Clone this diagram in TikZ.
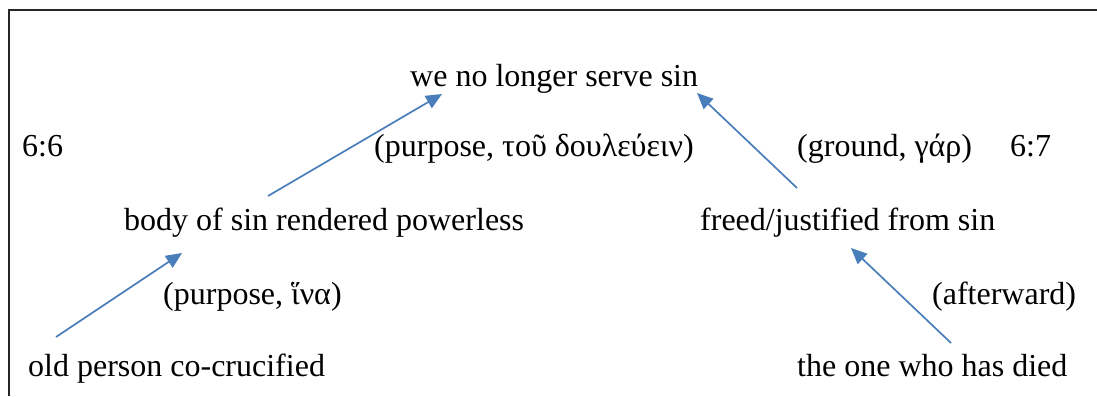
\documentclass[tikz,border=0pt]{standalone}
\usepackage{fontspec}
\setmainfont{Liberation Serif}
\usetikzlibrary{arrows.meta}
\definecolor{arrblue}{HTML}{4A7EBB}
\begin{document}
\begin{tikzpicture}[x=1pt,y=-1pt,
  lbl/.style={anchor=base west,inner sep=0pt,font=\fontsize{32}{38}\selectfont},
  conn/.style={draw=arrblue,line width=1.7pt,-{Triangle[length=16pt,width=14pt]}},
  frame/.style={draw=black!85,line width=2.2pt}]
\useasboundingbox (0,0) rectangle (1097,396);
\draw[frame] (9,396) -- (9,10) -- (1097,10);
\node[lbl] (serve) at (410,86) {we no longer serve sin};
\node[lbl] (v6) at (22,156) {6:6};
\node[lbl] (purp1) at (374,156) {(purpose, τοῦ δουλεύειν)};
\node[lbl] (ground) at (797,156) {(ground, γάρ)};
\node[lbl] (v7) at (1010,156) {6:7};
\node[lbl] (body) at (124,230) {body of sin rendered powerless};
\node[lbl] (freed) at (700,230) {freed/justified from sin};
\node[lbl] (purp2) at (163,304) {(purpose, ἵνα)};
\node[lbl] (after) at (932,304) {(afterward)};
\node[lbl] (old) at (28,376) {old person co-crucified};
\node[lbl] (died) at (797,376) {the one who has died};
\coordinate (oldtop) at (56,337);
\coordinate (bodybot) at (182,253);
\coordinate (bodytop) at (268,196);
\coordinate (servebotL) at (442,94);
\coordinate (freedtop) at (797,188);
\coordinate (servebotR) at (697,93);
\coordinate (diedtop) at (951,343);
\coordinate (freedbot) at (851,248);
\draw[conn] (oldtop) -- (bodybot);
\draw[conn] (bodytop) -- (servebotL);
\draw[conn] (freedtop) -- (servebotR);
\draw[conn] (diedtop) -- (freedbot);
\end{tikzpicture}
\end{document}
